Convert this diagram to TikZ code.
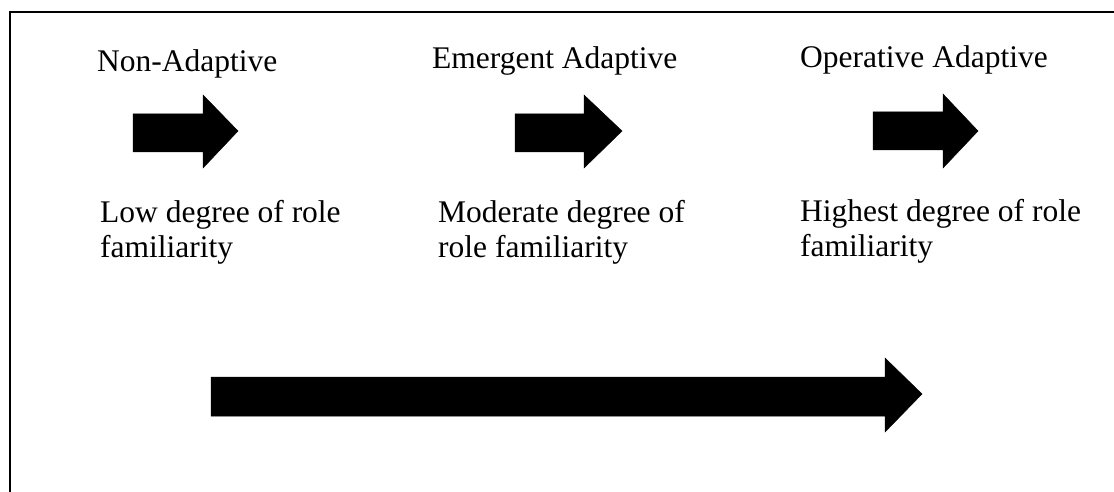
\documentclass[tikz,border=0pt]{standalone}
\usepackage{fontspec}
\setmainfont{Liberation Serif}
\begin{document}
\begin{tikzpicture}[x=1pt,y=-1pt,
  lbl/.style={anchor=base west,inner sep=0pt,font=\fontsize{31.5}{35}\selectfont,align=left},
  blk/.style={fill=black,draw=black,line width=0.5pt,line join=miter}]
\useasboundingbox (0,0) rectangle (1114,492);
% frame (cropped: top and left only)
\draw[line width=1.6pt] (10,492) -- (10,12) -- (1114,12);
% headings
\node[lbl] (h1) at (97,72) {Non-Adaptive};
\node[lbl] (h2) at (432,69) {Emergent Adaptive};
\node[lbl] (h3) at (800,68) {Operative Adaptive};
% small arrows
\fill[blk] (133,114) -- (203,114) -- (203,95) -- (238,131) -- (203,168) -- (203,152) -- (133,152) -- cycle;
\fill[blk] (515,114) -- (584,114) -- (584,95) -- (622,131) -- (584,168) -- (584,152) -- (515,152) -- cycle;
\fill[blk] (873,112) -- (943,112) -- (943,94) -- (978,131) -- (943,168) -- (943,150) -- (873,150) -- cycle;
% descriptions
\node[lbl] (d1) at (100,257) {Low degree of role\\familiarity};
\node[lbl] (d2) at (438,257) {Moderate degree of\\role familiarity};
\node[lbl] (d3) at (800,256) {Highest degree of role\\familiarity};
% big arrow
\fill[blk] (211,377) -- (885,377) -- (885,358) -- (922,394) -- (885,432) -- (885,416) -- (211,416) -- cycle;
\end{tikzpicture}
\end{document}
